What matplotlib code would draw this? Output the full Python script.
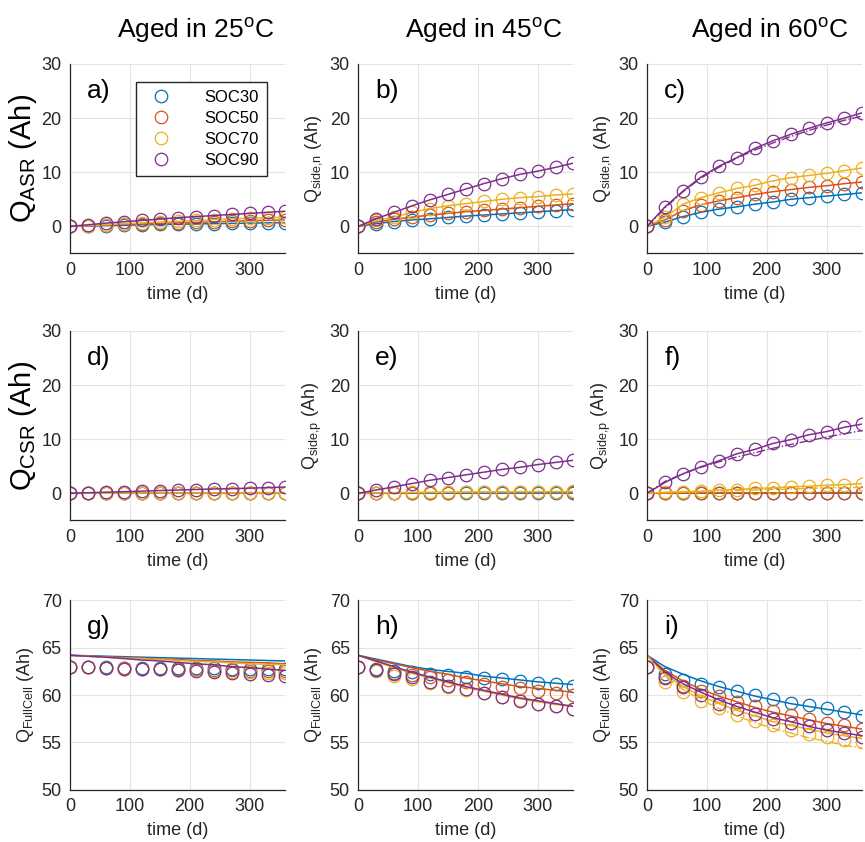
import numpy as np
import matplotlib
matplotlib.use("Agg")
import matplotlib.pyplot as plt

plt.rcParams['font.family'] = ['Liberation Sans', 'DejaVu Sans']
plt.rcParams['mathtext.fontset'] = 'custom'
plt.rcParams['mathtext.rm'] = 'Liberation Sans'

# time points (days)
t = [0, 30, 60, 90, 120, 150, 180, 210, 240, 270, 300, 330, 360]
soc_labels = ["SOC30", "SOC50", "SOC70", "SOC90"]
temps = ["25", "45", "60"]

# row 1: anode side reaction capacity (SOC30, SOC50, SOC70, SOC90)
qn_25 = [[0, 0.05, 0.15, 0.2, 0.3, 0.35, 0.4, 0.45, 0.5, 0.55, 0.6, 0.65, 0.7],
         [0, 0.1, 0.25, 0.35, 0.45, 0.55, 0.65, 0.75, 0.85, 0.95, 1.05, 1.1, 1.2],
         [0, 0.15, 0.3, 0.5, 0.65, 0.8, 0.95, 1.1, 1.25, 1.4, 1.5, 1.6, 1.7],
         [0, 0.3, 0.6, 0.85, 1.1, 1.35, 1.6, 1.8, 2.0, 2.2, 2.4, 2.6, 2.8]]
qn_45 = [[0, 0.5, 0.9, 1.2, 1.4, 1.65, 1.9, 2.1, 2.3, 2.5, 2.7, 2.9, 3.1],
         [0, 0.8, 1.3, 1.7, 2.1, 2.4, 2.7, 2.95, 3.2, 3.45, 3.7, 3.95, 4.2],
         [0, 1.1, 1.7, 2.6, 3.3, 3.8, 4.2, 4.6, 5.0, 5.3, 5.5, 5.8, 6.0],
         [0, 1.4, 2.6, 3.8, 4.9, 5.9, 6.9, 7.9, 8.8, 9.6, 10.2, 10.9, 11.7]]
qn_60 = [[0, 0.8, 1.8, 2.6, 3.2, 3.6, 4.1, 4.5, 5.0, 5.3, 5.6, 5.9, 6.2],
         [0, 1.2, 2.9, 4.0, 4.7, 5.3, 5.9, 6.4, 6.8, 7.2, 7.5, 7.9, 8.2],
         [0, 1.7, 4.1, 5.3, 6.2, 7.0, 7.6, 8.4, 9.0, 9.4, 9.8, 10.3, 10.8],
         [0, 3.6, 6.5, 9.1, 11.1, 12.7, 14.4, 15.8, 17.0, 18.1, 19.1, 20.0, 21.0]]

# row 2: cathode side reaction capacity
qp_25 = [[0, 0.01, 0.02, 0.03, 0.03, 0.04, 0.04, 0.05, 0.05, 0.05, 0.06, 0.06, 0.06],
         [0, 0.02, 0.04, 0.05, 0.06, 0.07, 0.08, 0.09, 0.1, 0.1, 0.11, 0.12, 0.12],
         [0, 0.01, 0.02, 0.03, 0.04, 0.05, 0.05, 0.06, 0.06, 0.07, 0.07, 0.08, 0.08],
         [0, 0.1, 0.2, 0.3, 0.4, 0.5, 0.6, 0.7, 0.8, 0.85, 0.95, 1.05, 1.15]]
qp_45 = [[0, 0.0, 0.01, 0.01, 0.02, 0.02, 0.02, 0.03, 0.03, 0.03, 0.03, 0.04, 0.04],
         [0, 0.05, 0.08, 0.1, 0.12, 0.14, 0.15, 0.17, 0.18, 0.19, 0.2, 0.21, 0.22],
         [0, 0.08, 0.12, 0.15, 0.18, 0.2, 0.22, 0.24, 0.26, 0.28, 0.3, 0.32, 0.34],
         [0, 0.6, 1.2, 1.8, 2.4, 2.9, 3.4, 3.9, 4.4, 4.8, 5.3, 5.7, 6.1]]
qp_60 = [[0, 0.0, 0.01, 0.01, 0.02, 0.02, 0.02, 0.03, 0.03, 0.03, 0.03, 0.04, 0.04],
         [0, 0.02, 0.04, 0.05, 0.06, 0.07, 0.08, 0.09, 0.1, 0.1, 0.11, 0.12, 0.12],
         [0, 0.2, 0.3, 0.4, 0.6, 0.7, 0.9, 1.0, 1.2, 1.3, 1.5, 1.6, 1.8],
         [0, 2.0, 3.6, 4.9, 6.0, 7.3, 8.1, 9.2, 9.9, 10.8, 11.4, 12.2, 12.8]]

# row 3: full cell capacity, measured
qf_25 = [[63.0, 62.95, 62.95, 62.9, 62.9, 62.9, 62.85, 62.85, 62.85, 62.8, 62.8, 62.8, 62.75],
         [63.0, 62.95, 62.9, 62.85, 62.8, 62.75, 62.7, 62.7, 62.65, 62.6, 62.55, 62.5, 62.5],
         [63.0, 62.95, 62.9, 62.8, 62.75, 62.7, 62.65, 62.6, 62.5, 62.45, 62.4, 62.35, 62.3],
         [63.0, 62.95, 62.9, 62.8, 62.75, 62.7, 62.6, 62.5, 62.4, 62.3, 62.2, 62.1, 62.05]]
qf_45 = [[63.0, 62.7, 62.5, 62.4, 62.2, 62.1, 61.9, 61.8, 61.7, 61.5, 61.3, 61.2, 61.0],
         [63.0, 62.6, 62.3, 62.1, 61.9, 61.6, 61.4, 61.2, 60.9, 60.7, 60.4, 60.2, 60.0],
         [63.0, 62.5, 62.0, 61.7, 61.3, 60.9, 60.5, 60.2, 59.8, 59.5, 59.1, 58.8, 58.5],
         [63.0, 62.6, 62.2, 61.9, 61.4, 61.0, 60.6, 60.2, 59.8, 59.4, 59.1, 58.8, 58.5]]
qf_60 = [[63.0, 62.2, 61.6, 61.2, 60.8, 60.4, 60.0, 59.6, 59.2, 58.9, 58.6, 58.2, 57.8],
         [63.0, 61.9, 61.0, 60.4, 59.9, 59.3, 58.8, 58.3, 57.9, 57.5, 57.1, 56.8, 56.4],
         [63.0, 61.4, 60.3, 59.4, 58.6, 57.9, 57.3, 56.8, 56.3, 55.9, 55.6, 55.3, 55.0],
         [63.0, 61.8, 60.8, 60.0, 59.1, 58.5, 58.0, 57.5, 57.1, 56.7, 56.3, 56.0, 55.6]]

# row 3: full cell capacity, model
mf_25 = [[64.2, 64.15, 64.1, 64.05, 64.0, 63.95, 63.9, 63.85, 63.8, 63.75, 63.7, 63.65, 63.6],
         [64.2, 64.1, 64.05, 63.95, 63.9, 63.8, 63.75, 63.65, 63.6, 63.5, 63.45, 63.4, 63.3],
         [64.2, 64.1, 64.0, 63.9, 63.85, 63.75, 63.65, 63.55, 63.5, 63.4, 63.3, 63.25, 63.2],
         [64.2, 64.1, 64.0, 63.85, 63.7, 63.6, 63.45, 63.3, 63.2, 63.0, 62.9, 62.75, 62.6]]
mf_45 = [[64.2, 63.8, 63.4, 63.0, 62.7, 62.5, 62.3, 62.0, 61.8, 61.6, 61.4, 61.25, 61.1],
         [64.2, 63.7, 63.3, 62.9, 62.5, 62.2, 61.8, 61.5, 61.2, 60.9, 60.7, 60.5, 60.3],
         [64.2, 63.5, 62.9, 62.3, 61.8, 61.3, 60.8, 60.4, 60.0, 59.6, 59.3, 59.0, 58.8],
         [64.2, 63.6, 63.0, 62.4, 61.9, 61.4, 60.9, 60.5, 60.1, 59.7, 59.4, 59.1, 58.8]]
mf_60 = [[64.2, 63.0, 62.2, 61.5, 60.9, 60.4, 59.9, 59.5, 59.1, 58.8, 58.5, 58.2, 57.9],
         [64.2, 62.6, 61.5, 60.6, 59.9, 59.3, 58.7, 58.2, 57.8, 57.4, 57.0, 56.7, 56.4],
         [64.2, 62.2, 60.9, 59.9, 59.1, 58.4, 57.8, 57.2, 56.8, 56.4, 56.0, 55.7, 55.4],
         [64.2, 62.4, 61.2, 60.3, 59.5, 58.8, 58.2, 57.6, 57.2, 56.7, 56.3, 56.0, 55.7]]

# dash-dot (second model) where it separates from the solid one
dd_c_soc90 = [0, 3.4, 6.4, 8.9, 10.9, 12.6, 14.1, 15.4, 16.6, 17.7, 18.7, 19.6, 20.4]
dd_f_soc70 = [0, 0.1, 0.2, 0.3, 0.4, 0.5, 0.6, 0.7, 0.8, 0.9, 1.0, 1.05, 1.1]
dd_f_soc90 = [0, 2.2, 3.6, 4.8, 5.8, 6.7, 7.5, 8.3, 9.0, 9.7, 10.4, 11.0, 11.6]
dd_i_soc70 = [64.2, 62.0, 60.6, 59.5, 58.6, 57.8, 57.1, 56.5, 56.0, 55.5, 55.1, 54.7, 54.4]

colors = ['#0072BD', '#D95319', '#EDB120', '#7E2F8E']
txt = '#262626'

fig = plt.figure(figsize=(8.65, 8.42), dpi=100)
lefts = [0.081, 0.414, 0.748]
bottoms = [0.699, 0.382, 0.062]
w, h = 0.249, 0.225

panels = [[qn_25, qn_45, qn_60], [qp_25, qp_45, qp_60], [qf_25, qf_45, qf_60]]
models = [[qn_25, qn_45, qn_60], [qp_25, qp_45, qp_60], [mf_25, mf_45, mf_60]]
letters = [['a)', 'b)', 'c)'], ['d)', 'e)', 'f)'], ['g)', 'h)', 'i)']]
dashdots = {(0, 2): [(3, dd_c_soc90)], (1, 2): [(2, dd_f_soc70), (3, dd_f_soc90)],
            (2, 2): [(2, dd_i_soc70)]}

for r in range(3):
    for c in range(3):
        ax = fig.add_axes([lefts[c], bottoms[r], w, h])
        data = panels[r][c]
        model = models[r][c]
        for k in range(4):
            ax.plot(t, data[k], 'o', mfc='none', mec=colors[k], ms=9, mew=0.9,
                    label=soc_labels[k])
            ax.plot(t, model[k], '-', color=colors[k], lw=1.1)
        for k, dd in dashdots.get((r, c), []):
            ax.plot(t, dd, '-.', color=colors[k], lw=1.0)
        ax.set_xlim(0, 360)
        ax.set_xticks([0, 100, 200, 300])
        if r < 2:
            ax.set_ylim(-5, 30)
            ax.set_yticks([0, 10, 20, 30])
        else:
            ax.set_ylim(50, 70)
            ax.set_yticks([50, 55, 60, 65, 70])
        ax.grid(True, color='#e3e3e3', lw=0.8)
        ax.set_axisbelow(True)
        for s in ['top', 'right']:
            ax.spines[s].set_visible(False)
        for s in ['left', 'bottom']:
            ax.spines[s].set_color(txt)
            ax.spines[s].set_linewidth(0.9)
        ax.tick_params(labelsize=13, colors=txt, length=0, pad=6)
        ax.set_xlabel('time (d)', fontsize=13, color=txt, labelpad=5)
        ax.text(0.08, 0.82, letters[r][c], transform=ax.transAxes, fontsize=19,
                color='black')
        if r == 0 and c == 0:
            ax.set_ylabel(r'Q$_{\mathregular{ASR}}$ (Ah)', fontsize=21, labelpad=2)
            ax.legend(loc='upper right', bbox_to_anchor=(0.955, 0.95), fontsize=12,
                      fancybox=False, edgecolor=txt, handletextpad=1.6,
                      borderpad=0.5, labelspacing=0.35, framealpha=1)
        elif r == 1 and c == 0:
            ax.set_ylabel(r'Q$_{\mathregular{CSR}}$ (Ah)', fontsize=21, labelpad=2)
        elif r == 0:
            ax.set_ylabel(r'Q$_{\mathregular{side{,}n}}$ (Ah)', fontsize=13, color=txt)
        elif r == 1:
            ax.set_ylabel(r'Q$_{\mathregular{side{,}p}}$ (Ah)', fontsize=13, color=txt)
        else:
            ax.set_ylabel(r'Q$_{\mathregular{FullCell}}$ (Ah)', fontsize=13, color=txt)

title_x = [0.226, 0.559, 0.89]
for c in range(3):
    fig.text(title_x[c], 0.964, r'Aged in %s$^{\mathregular{o}}$C' % temps[c],
             fontsize=19, ha='center', va='center')

fig.savefig('out.png', dpi=100)
